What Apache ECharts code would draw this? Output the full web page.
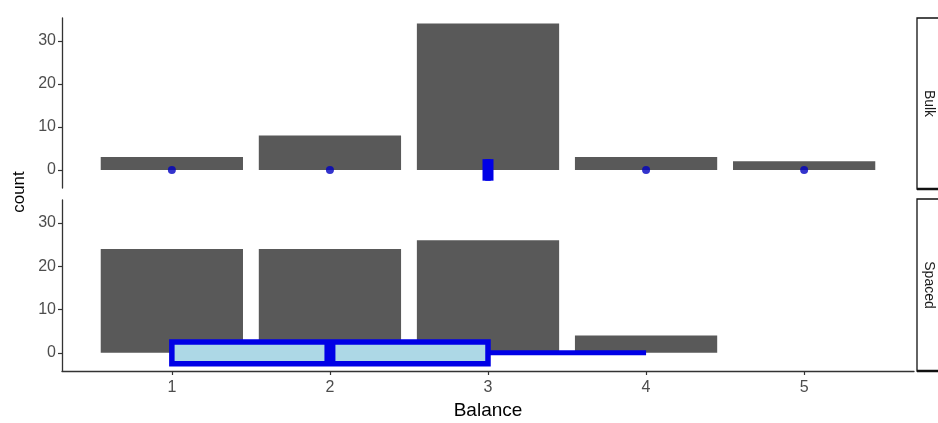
<!DOCTYPE html>
<html><head><meta charset="utf-8">
<script src="https://cdn.jsdelivr.net/npm/echarts@6/dist/echarts.min.js"></script>
<style>html,body{margin:0;padding:0;background:#fff}#c{width:938px;height:423px}</style>
</head><body><div id="c"></div>
<script>
// ---- data ----
const balance = [1, 2, 3, 4, 5];
const bulkCounts = [3, 8, 34, 3, 2];
const spacedCounts = [24, 24, 26, 4, 0];
const panels = ['Bulk', 'Spaced'];
// boxplot stats of Balance: [min, q1, median, q3, max]
const bulkBox = [3, 3, 3, 3, 3];
const bulkOutliers = [1, 2, 4, 5];
const spacedBox = [1, 1, 2, 3, 4];
const spacedOutliers = [];
const yTicks = [0, 10, 20, 30];
const xTicks = [1, 2, 3, 4, 5];

// ---- style ----
const BAR = '#595959', BOXLINE = '#0000e6', BOXFILL = '#add8e6', PT = '#0000c0';
const FONT = 'Liberation Sans, Arial, sans-serif';
const HALF = 2.5; // half height of the box in y units

const chart = echarts.init(document.getElementById('c'));

function barSeries(idx, counts) {
  return {
    type: 'custom', xAxisIndex: idx, yAxisIndex: idx,
    data: balance.map((b, i) => [b, counts[i]]),
    renderItem(params, api) {
      const x = api.value(0), y = api.value(1);
      if (!y) return null;
      const p0 = api.coord([x - 0.45, 0]);
      const p1 = api.coord([x + 0.45, y]);
      return { type: 'rect', shape: { x: p0[0], y: p1[1], width: p1[0] - p0[0], height: p0[1] - p1[1] },
        style: { fill: BAR } };
    }, z: 1
  };
}
function boxSeries(idx, st) {
  return {
    type: 'custom', xAxisIndex: idx, yAxisIndex: idx,
    data: [st],
    renderItem(params, api) {
      const mn = api.value(0), q1 = api.value(1), md = api.value(2), q3 = api.value(3), mx = api.value(4);
      const a = api.coord([q1, HALF]), b = api.coord([q3, -HALF]);
      const c = api.coord([md, 0]);
      const lo = api.coord([mn, 0]), hi = api.coord([mx, 0]);
      const children = [];
      if (mn < q1) children.push({ type: 'line', shape: { x1: lo[0], y1: c[1], x2: a[0], y2: c[1] }, style: { stroke: BOXLINE, lineWidth: 5 } });
      if (mx > q3) children.push({ type: 'line', shape: { x1: b[0], y1: c[1], x2: hi[0], y2: c[1] }, style: { stroke: BOXLINE, lineWidth: 5 } });
      children.push({ type: 'rect', shape: { x: a[0], y: a[1], width: b[0] - a[0], height: b[1] - a[1] },
        style: { fill: BOXFILL, stroke: BOXLINE, lineWidth: 5.5 } });
      children.push({ type: 'line', shape: { x1: c[0], y1: a[1], x2: c[0], y2: b[1] }, style: { stroke: BOXLINE, lineWidth: 11 } });
      return { type: 'group', children };
    }, z: 3
  };
}
function ptSeries(idx, pts) {
  return { type: 'scatter', xAxisIndex: idx, yAxisIndex: idx, data: pts.map(p => [p, 0]),
    symbol: 'circle', symbolSize: 8, itemStyle: { color: PT }, z: 4, silent: true };
}
function xAxis(idx, show) {
  return {
    type: 'value', gridIndex: idx, min: 0.305, max: 5.695,
    axisLine: { show: show, onZero: false, lineStyle: { color: '#333', width: 1.3 } },
    axisTick: { show: show, customValues: xTicks, length: 4, lineStyle: { color: '#333', width: 1.2 } },
    axisLabel: { show: show, customValues: xTicks, color: '#4d4d4d', fontSize: 16, fontFamily: FONT, margin: 9 },
    splitLine: { show: false }
  };
}
function yAxis(idx) {
  return {
    type: 'value', gridIndex: idx, min: -4.2, max: 35.3,
    axisLine: { show: true, onZero: false, lineStyle: { color: '#333', width: 1.3 } },
    axisTick: { show: true, customValues: yTicks, length: 4, lineStyle: { color: '#333', width: 1.2 } },
    axisLabel: { customValues: yTicks, color: '#4d4d4d', fontSize: 16, fontFamily: FONT, margin: 6 },
    splitLine: { show: false }
  };
}
function strip(top, h, label) {
  return [
    { type: 'rect', shape: { x: 917, y: top, width: 40, height: h }, style: { fill: '#fff', stroke: '#111', lineWidth: 1.3 }, z: 10 },
    { type: 'line', shape: { x1: 917, y1: top + h, x2: 938, y2: top + h }, style: { stroke: '#111', lineWidth: 2.5 }, z: 11 },
    { type: 'text', x: 929, y: top + h / 2, rotation: -Math.PI / 2,
      style: { text: label, fill: '#1a1a1a', font: '14px ' + FONT, align: 'center', verticalAlign: 'middle' }, z: 12 }
  ];
}

chart.setOption({
  animation: false,
  grid: [
    { left: 62, top: 18, width: 852, height: 170 },
    { left: 62, top: 200, width: 852, height: 171 }
  ],
  xAxis: [xAxis(0, false), xAxis(1, true)],
  yAxis: [yAxis(0), yAxis(1)],
  series: [
    barSeries(0, bulkCounts), boxSeries(0, bulkBox), ptSeries(0, bulkOutliers),
    barSeries(1, spacedCounts), boxSeries(1, spacedBox), ptSeries(1, spacedOutliers)
  ],
  graphic: [
    ...strip(18, 171, panels[0]),
    ...strip(199, 172, panels[1]),
    { type: 'text', x: 19, y: 192, rotation: Math.PI / 2,
      style: { text: 'count', fill: '#000', font: '17px ' + FONT, align: 'center', verticalAlign: 'middle' } },
    { type: 'text', x: 488, y: 411,
      style: { text: 'Balance', fill: '#000', font: '19px ' + FONT, align: 'center', verticalAlign: 'middle' } }
  ]
});
</script></body></html>
